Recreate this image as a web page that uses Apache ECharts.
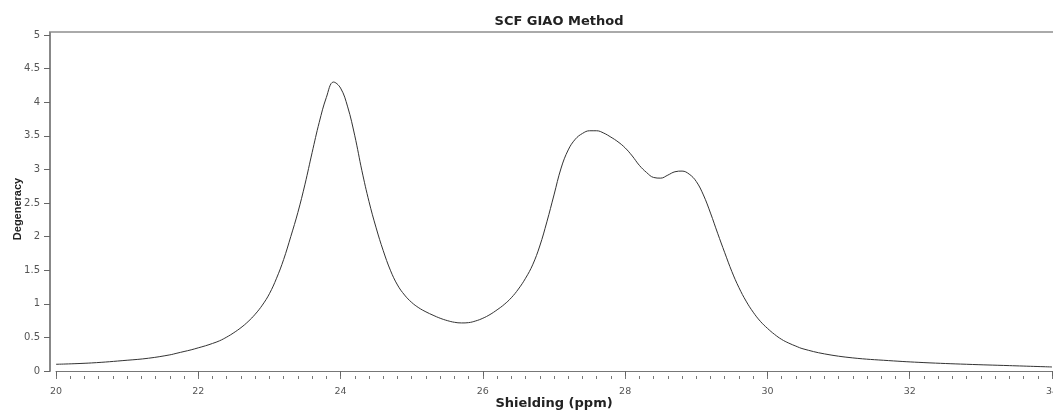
<!DOCTYPE html>
<html>
<head>
<meta charset="utf-8">
<script src="https://cdn.jsdelivr.net/npm/echarts@6/dist/echarts.min.js"></script>
<style>
html,body{margin:0;padding:0;background:#fff;}
#chart{width:1053px;height:410px;}
</style>
</head>
<body>
<div id="chart"></div>
<script>
const titleText = 'SCF GIAO Method';
const xName = 'Shielding (ppm)';
const yName = 'Degeneracy';
const shielding = [20.0,20.5,21.0,21.3,21.6,21.7,21.8,21.9,22.0,22.1,22.2,22.3,22.4,22.5,22.6,22.7,22.8,22.9,23.0,23.1,23.2,23.3,23.4,23.5,23.6,23.7,23.8,23.9,24.0,24.1,24.2,24.3,24.4,24.5,24.6,24.7,24.8,24.9,25.0,25.1,25.2,25.3,25.4,25.5,25.6,25.7,25.8,25.9,26.0,26.1,26.2,26.3,26.4,26.5,26.6,26.7,26.8,26.9,27.0,27.1,27.2,27.3,27.4,27.5,27.6,27.7,27.8,27.9,28.0,28.1,28.2,28.3,28.4,28.5,28.6,28.7,28.8,28.9,29.0,29.1,29.2,29.3,29.4,29.5,29.6,29.7,29.8,29.9,30.0,30.1,30.2,30.3,30.4,30.5,30.8,31.2,31.7,32.2,32.8,33.4,34.0];
const degeneracy = [0.10,0.12,0.16,0.19,0.24,0.265,0.29,0.315,0.345,0.375,0.41,0.45,0.505,0.57,0.645,0.735,0.845,0.98,1.15,1.38,1.66,2.00,2.36,2.78,3.25,3.70,4.07,4.30,4.21,3.93,3.50,2.98,2.52,2.13,1.79,1.50,1.28,1.13,1.02,0.94,0.88,0.83,0.785,0.75,0.725,0.715,0.72,0.745,0.785,0.84,0.91,0.99,1.09,1.22,1.38,1.58,1.86,2.22,2.62,3.02,3.29,3.45,3.535,3.575,3.575,3.54,3.48,3.41,3.32,3.20,3.06,2.955,2.88,2.87,2.915,2.965,2.975,2.93,2.82,2.62,2.35,2.05,1.76,1.48,1.24,1.04,0.875,0.74,0.635,0.545,0.47,0.415,0.37,0.33,0.255,0.195,0.155,0.125,0.10,0.08,0.06];
const xMin = 20, xMax = 34, xStep = 2, xMinorStep = 0.2;
const yMin = 0, yMax = 5, yStep = 0.5;

const chart = echarts.init(document.getElementById('chart'), null, {renderer: 'canvas'});
const font = 'DejaVu Sans, Verdana, sans-serif';
chart.setOption({
  animation: false,
  backgroundColor: '#fff',
  title: {
    text: titleText, left: 554, top: 10, textAlign: 'center',
    textStyle: {fontFamily: font, fontSize: 13, fontWeight: 'bold', color: '#222'}
  },
  grid: {left: 56, right: 1, top: 35, bottom: 39, containLabel: false, outerBoundsMode: 'none'},
  xAxis: [{
    type: 'value', min: xMin, max: xMax, interval: xStep,
    position: 'bottom', offset: 8,
    axisLine: {show: true, lineStyle: {color: '#777', width: 1}},
    axisTick: {show: true, length: 5, lineStyle: {color: '#666'}},
    axisLabel: {fontFamily: font, fontSize: 9.5, color: '#555', margin: 8},
    splitLine: {show: false},
    name: xName, nameLocation: 'middle', nameGap: 18, nameMoveOverlap: false,
    nameTextStyle: {fontFamily: font, fontSize: 13, fontWeight: 'bold', color: '#222', verticalAlign: 'top'}
  }, {
    type: 'value', min: xMin, max: xMax, interval: xMinorStep,
    position: 'bottom', offset: 8,
    axisLine: {show: false},
    axisTick: {show: true, inside: true, length: 3, lineStyle: {color: '#777'}},
    axisLabel: {show: false},
    splitLine: {show: false}
  }],
  yAxis: {
    type: 'value', min: yMin, max: yMax, interval: yStep,
    offset: 6,
    axisLine: {show: true, lineStyle: {color: '#888', width: 2}},
    axisTick: {show: true, length: 6, lineStyle: {color: '#666'}},
    axisLabel: {fontFamily: font, fontSize: 10, color: '#555', margin: 10},
    splitLine: {show: false},
    name: yName, nameLocation: 'middle', nameGap: 27, nameRotate: 90, nameMoveOverlap: false,
    nameTextStyle: {fontFamily: 'Liberation Sans, Arial, sans-serif', fontSize: 11, fontWeight: 'bold', color: '#222', padding: [0, 12, 0, 0]}
  },
  graphic: [{
    type: 'line', silent: true,
    shape: {x1: 49, y1: 32, x2: 1053, y2: 32},
    style: {stroke: '#aaa', lineWidth: 2}
  }, {
    type: 'line', silent: true,
    shape: {x1: 50, y1: 32, x2: 50, y2: 36},
    style: {stroke: '#888', lineWidth: 2}
  }],
  series: [{
    type: 'line', xAxisIndex: 0,
    data: shielding.map((s, i) => [s, degeneracy[i]]),
    smooth: 0.4, showSymbol: false, symbol: 'none',
    lineStyle: {color: '#333', width: 1}
  }]
});
</script>
</body>
</html>
